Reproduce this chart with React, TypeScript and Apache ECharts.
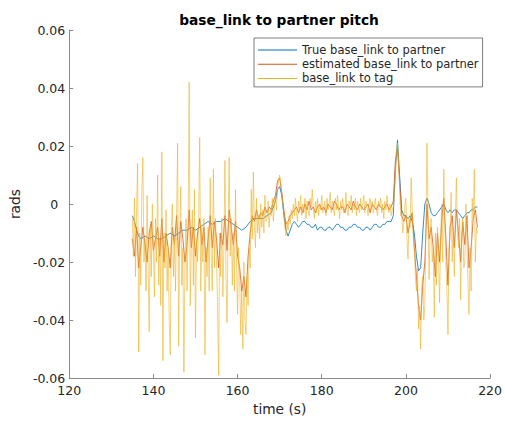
import React, { useEffect, useRef } from "react";
import * as echarts from "echarts";

// time axis ticks
const xTicks = [120, 140, 160, 180, 200, 220];
const yTicks = [-0.06, -0.04, -0.02, 0, 0.02, 0.04, 0.06];

// base_link to tag (mrad), sampled every 0.25 s from 135 s
const TAG_T0 = 135;
const TAG_DT = 0.25;
const tagMrad = [
  -5, -18, 2, -25,
  -2, 14, -51, -10,
  -28, 5, 16, -20,
  -12, -30, 3, -22,
  -44, -8, -25, 0,
  -15, -32, -5, -20,
  10, -28, -12, -35,
  18, -54, -10, -22,
  -2, -30, -15, -40,
  -52, -8, 0, -25,
  -12, -30, -5, 21,
  -49, -10, 6, -28,
  -15, -58, -20, -5,
  -30, -8, 42, -35,
  -15, -2, -28, 5,
  -46, -12, -20, -5,
  23, -30, -8, -20,
  -5, -52, -15, -25,
  -8, -30, 9, -18,
  -30, 12, -22, -5,
  -20, -35, -59, -10,
  -25, -5, -32, -15,
  15, -25, -41, -8,
  16, -18, -5, -28,
  -10, -30, 5, -20,
  -38, -15, -25, -45,
  -30, -50, -20, -40,
  -45, -25, -35, -15,
  -22, 5, -12, 11,
  -8, -15, 2, -10,
  -4, -12, 0, -8,
  -2, -10, 3, -6,
  -5, 1, -8, -2,
  -4, 2, -6, 0,
  3, -2, 6, 8,
  10, 7, 4, 0,
  -3, -8, -11, -6,
  -9, -4, -7, -2,
  -5, 0, -4, 2,
  -3, -6, 1, -2,
  3, -4, 0, -3,
  2, -5, 1, -2,
  -4, 2, -1, 5,
  -2, -5, 1, -3,
  2, -4, 0, -2,
  3, -3, -1, 1,
  -4, 2, -2, 0,
  4, -3, 1, -1,
  -4, 2, -2, 3,
  -1, -5, 1, -2,
  2, -3, -1, 4,
  -2, -4, 1, -1,
  3, -3, 0, -2,
  2, -4, 1, -1,
  -3, 2, -2, 0,
  3, -3, 1, -1,
  -4, 0, 2, -2,
  1, -3, -1, 2,
  -2, -4, 1, -1,
  2, -3, 0, -5,
  1, -2, 3, -1,
  -3, 0, -4, -2,
  -1, 2, 10, 19,
  21, 14, 6, -4,
  -3, -10, -6, 0,
  2, -12, -19, -5,
  -8, 9, -2, -12,
  -15, -25, -30, -22,
  -43, -35, -50, -28,
  -25, -40, -35, -10,
  21, 0, -26, -10,
  -5, -20, -15, -39,
  -10, -28, -8, -18,
  -34, -12, 0, -20,
  12, -8, -20, -30,
  -45, -15, -10, 4,
  -20, -8, -25, -5,
  9, -10, -15, -5,
  -33, -12, -5, -22,
  -20, 0, -12, -28,
  -38, -15, -30, 2,
  -5, 12, -20, -8,
  -10,
];

// estimated base_link to partner (mrad), every 0.5 s from 135 s
const EST_T0 = 135;
const EST_DT = 0.5;
const estMrad = [
  -12, -18, -8, -22, -15, -8, -14, -20, -10, -6,
  -16, -12, -8, -18, -5, -20, -10, -15, -22, -8,
  -14, -4, -18, -6, -12, -20, -14, -2, -15, -8,
  -18, -10, -5, -14, -8, -20, -12, -4, -15, -6,
  -12, -22, -10, -14, -4, -16, -2, -8, -14, -6,
  -18, -22, -30, -25, -32, -18, -10, -4, -6, -2,
  -5, -3, -4, -1, -3, -1, -2, 1, 3, 8,
  9, 4, -2, -7, -6, -4, -3, -2, -1, -3,
  -1, -3, 0, -2, 1, -2, -1, -3, -1, 0,
  -2, -1, -3, 0, -1, -2, 1, 0, -2, -1,
  -1, -3, 0, -1, -2, 1, -1, -2, 0, -1,
  -2, -1, 0, -3, 0, -1, -2, 0, -1, -2,
  -1, 0, -2, -1, 1, 15, 19, 8, -4, -6,
  -4, -10, -6, -3, -15, -25, -35, -40, -28, -20,
  0, -12, -8, -15, -25, -10, -20, -6, 2, -12,
  -28, -8, -4, -15, -2, -10, -20, -6, -14, -4,
  -22, -15, -5, -2, -8,
];

// true base_link to partner: [time s, mrad]
const trueMrad: [number, number][] = [
  [135, -4], [135.5, -6], [136, -9], [136.5, -11], [137, -12], [138, -11],
  [139, -12], [140, -11], [141, -12], [142, -12], [143, -11], [144, -10],
  [145, -11], [146, -10], [147, -9], [148, -9], [149, -8], [150, -9],
  [151, -8], [152, -7], [153, -6], [154, -7], [155, -6], [156, -6],
  [157, -5], [158, -6], [159, -7], [160, -8], [161, -9], [162, -8],
  [163, -6], [164, -5], [165, -5], [166, -5], [167, -4], [168, -3],
  [169, 1], [169.5, 5], [170, 6], [170.5, 3], [171, -4], [171.5, -9],
  [172, -11], [172.5, -9], [173, -7], [173.5, -6], [174, -7], [174.5, -8],
  [175, -7], [175.5, -6], [176, -6], [176.5, -7], [177, -7], [177.5, -8],
  [178, -8], [178.5, -7], [179, -9], [179.5, -8], [180, -8], [180.5, -9],
  [181, -9], [181.5, -8], [182, -8], [182.5, -9], [183, -8], [183.5, -7],
  [184, -7], [184.5, -8], [185, -8], [185.5, -9], [186, -9], [186.5, -8],
  [187, -8], [187.5, -7], [188, -7], [188.5, -8], [189, -8], [189.5, -9],
  [190, -9], [190.5, -8], [191, -8], [191.5, -9], [192, -8], [192.5, -7],
  [193, -7], [193.5, -8], [194, -8], [194.5, -7], [195, -7], [195.5, -6],
  [196, -6], [196.5, -6], [197, -4],
  [197.5, 12], [198, 22], [198.5, 10], [199, -2], [199.5, -4], [200, -4],
  [200.5, -5], [201, -4], [201.5, -6], [202, -10], [202.5, -18], [203, -23],
  [203.5, -22], [204, -10], [204.5, 0], [205, 2], [205.5, 0], [206, -3],
  [206.5, -4], [207, -4], [207.5, -3], [208, -2], [208.5, -1], [209, 0],
  [209.5, -2], [210, -3], [210.5, -2], [211, -3], [211.5, -2], [212, -2],
  [212.5, -3], [213, -4], [213.5, -5], [214, -4], [214.5, -3], [215, -3],
  [215.5, -2], [216, -2], [216.5, -1], [217, -1],
];

const seriesNames = [
  "True base_link to partner",
  "estimated base_link to partner",
  "base_link to tag",
];
const colors = ["#0072BD", "#D95319", "#EDB120"];

const FONT = "DejaVu Sans";
const TXT = "#262626";
const AX = "#8a8a8a";

export default function App() {
  const ref = useRef<HTMLDivElement>(null);
  useEffect(() => {
    if (!ref.current) return;
    const chart = echarts.init(ref.current, null, { renderer: "svg" });
    const tagData = tagMrad.map((v, i) => [TAG_T0 + i * TAG_DT, v / 1000]);
    const estData = estMrad.map((v, i) => [EST_T0 + i * EST_DT, v / 1000]);
    const trueData = trueMrad.map(([t, v]) => [t, v / 1000]);
    const fmtY = (v: number) => {
      if (Math.abs(v) < 1e-9) return "{z|0}";
      return v.toFixed(2);
    };
    chart.setOption({
      animation: false,
      backgroundColor: "#ffffff",
      textStyle: { fontFamily: FONT },
      grid: { left: 67, right: 14, top: 30, bottom: 39 },
      graphic: [
        {
          type: "text",
          x: 279,
          y: 20,
          style: {
            text: "base_link to partner pitch",
            fontFamily: FONT,
            fontSize: 13.75,
            fontWeight: "bold",
            fill: "#000",
            align: "center",
            verticalAlign: "middle",
          },
        },
      ],
      legend: {
        data: seriesNames,
        orient: "vertical",
        left: 254,
        top: 38,
        icon: "rect",
        itemWidth: 39,
        itemHeight: 1,
        itemGap: 0.2,
        padding: [5, 4, 1.5, 4],
        backgroundColor: "#ffffff",
        borderColor: "#262626",
        borderWidth: 0.6,
        borderRadius: 0,
        textStyle: {
          fontFamily: FONT,
          fontSize: 11.5,
          color: TXT,
          lineHeight: 14,
        },
      },
      xAxis: {
        type: "value",
        min: xTicks[0],
        max: xTicks[xTicks.length - 1],
        interval: 20,
        name: "time (s)",
        nameLocation: "middle",
        nameGap: 22,
        nameTextStyle: { fontFamily: FONT, fontSize: 13.75, color: TXT },
        axisLine: { show: true, onZero: false, lineStyle: { color: AX, width: 1 } },
        axisTick: { show: true, inside: true, length: 4, lineStyle: { color: AX } },
        axisLabel: {
          fontFamily: FONT,
          fontSize: 12.5,
          color: TXT,
          margin: 6,
          formatter: (v: number) => String(Math.round(v)),
        },
        splitLine: { show: false },
      },
      yAxis: {
        type: "value",
        min: yTicks[0],
        max: yTicks[yTicks.length - 1],
        interval: 0.02,
        name: "rads",
        nameLocation: "middle",
        nameGap: 38,
        nameRotate: 90,
        nameTextStyle: { fontFamily: FONT, fontSize: 13.75, color: TXT },
        axisLine: { show: true, onZero: false, lineStyle: { color: AX, width: 1 } },
        axisTick: { show: true, inside: true, length: 4, lineStyle: { color: AX } },
        axisLabel: {
          fontFamily: FONT,
          fontSize: 12.5,
          color: TXT,
          margin: 4,
          formatter: fmtY,
          rich: {
            z: { fontFamily: FONT, fontSize: 12.5, color: TXT, padding: [0, 7, 0, 0] },
          },
        },
        splitLine: { show: false },
      },
      series: [
        {
          name: seriesNames[0],
          type: "line",
          data: trueData,
          symbol: "none",
          lineStyle: { color: colors[0], width: 0.8 },
          itemStyle: { color: colors[0] },
        },
        {
          name: seriesNames[1],
          type: "line",
          data: estData,
          symbol: "none",
          lineStyle: { color: colors[1], width: 0.8 },
          itemStyle: { color: colors[1] },
        },
        {
          name: seriesNames[2],
          type: "line",
          data: tagData,
          symbol: "none",
          lineStyle: { color: colors[2], width: 0.7, opacity: 0.85 },
          itemStyle: { color: colors[2] },
        },
      ],
    });
    return () => chart.dispose();
  }, []);
  return (
    <div
      ref={ref}
      style={{ position: "fixed", left: 0, top: 0, width: 505, height: 421, background: "#fff" }}
    />
  );
}
